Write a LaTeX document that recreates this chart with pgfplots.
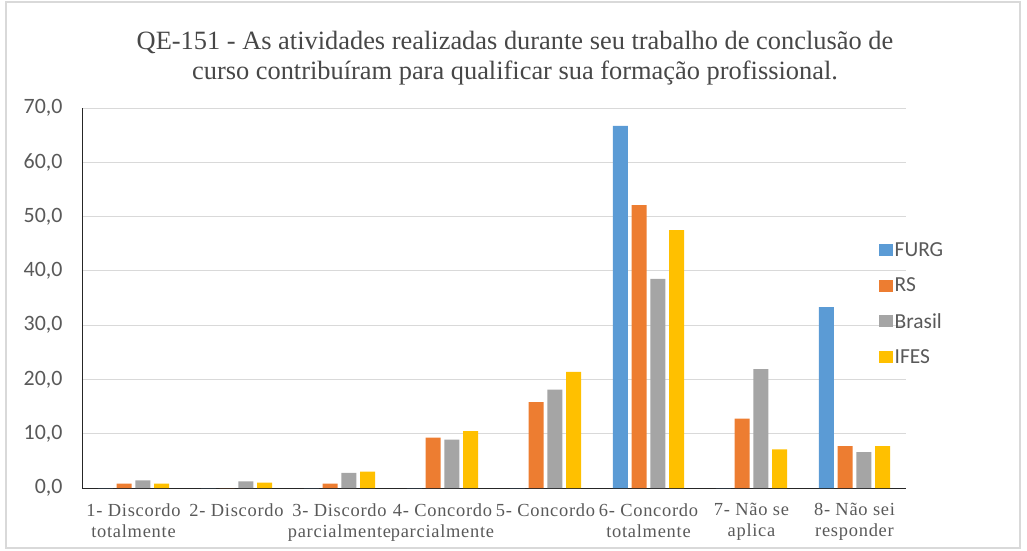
\documentclass[border=0pt]{standalone}
\usepackage{pgfplots}
\pgfplotsset{compat=1.18}
\usepackage{fontspec}
\setmainfont{Liberation Serif}
\newfontfamily\carlito{Carlito}
\definecolor{cFURG}{HTML}{5B9BD5}
\definecolor{cRS}{HTML}{ED7D31}
\definecolor{cBR}{HTML}{A5A5A5}
\definecolor{cIF}{HTML}{FFC000}
\definecolor{gridc}{HTML}{D9D9D9}
\definecolor{txt}{HTML}{595959}
\begin{document}
\begin{tikzpicture}
\useasboundingbox (-82bp,-63bp) rectangle (945bp,488bp);
\draw[gridc, line width=1.2bp] (-76bp,-60bp) rectangle (938bp,486bp);
\begin{axis}[
  at={(0,0)}, anchor=south west,
  scale only axis, width=824bp, height=380bp,
  xmin=-0.5, xmax=7.5, ymin=0, ymax=70,
  ybar=3.7bp, bar width=15bp,
  axis lines*=left,
  axis line style={black!85, line width=0.8bp},
  ymajorgrids, grid style={gridc, line width=0.8bp},
  major tick length=0pt,
  ytick={0,10,...,70},
  xtick=data,
  xticklabels={{1- Discordo\\totalmente},{2- Discordo},{3- Discordo\\parcialmente},{4- Concordo\\parcialmente},{5- Concordo},{6- Concordo\\totalmente},{7- Não se\\aplica},{8- Não sei\\responder}},
  xticklabel style={align=center, font=\addfontfeatures{LetterSpace=4}\fontsize{18.5}{21}\selectfont, text=txt, yshift=-12bp},
  yticklabel style={font=\carlito\fontsize{22}{22}\selectfont, text=txt, xshift=-16bp},
  /pgf/number format/.cd, fixed, fixed zerofill, precision=1, use comma, assume math mode=true,
  /pgfplots/.cd,
  legend style={at={(0.963,0.485)}, anchor=west, draw=none, fill=none,
    font=\carlito\fontsize{21.5}{22}\selectfont, text=txt, row sep=16bp,
    legend cell align=left},
  legend image code/.code={\fill (0bp,-6bp) rectangle (14bp,6bp);},
]
\addplot[fill=cFURG, draw=none] coordinates {(0,0) (1,0) (2,0) (3,0) (4,0) (5,66.7) (6,0) (7,33.3)};
\addplot[fill=cRS, draw=none] coordinates {(0,0.8) (1,0) (2,0.8) (3,9.3) (4,15.8) (5,52.1) (6,12.8) (7,7.7)};
\addplot[fill=cBR, draw=none] coordinates {(0,1.4) (1,1.2) (2,2.8) (3,8.9) (4,18.1) (5,38.5) (6,21.9) (7,6.6)};
\addplot[fill=cIF, draw=none] coordinates {(0,0.8) (1,1.0) (2,3.0) (3,10.5) (4,21.4) (5,47.5) (6,7.1) (7,7.7)};
\legend{FURG,RS,Brasil,IFES}
\end{axis}
\node[align=center, text=txt!80!black, font=\fontsize{26.5}{30}\selectfont] at (433bp,430bp)
  {QE-151 - As atividades realizadas durante seu trabalho de conclusão de\\curso contribuíram para qualificar sua formação profissional.};
\end{tikzpicture}
\end{document}
